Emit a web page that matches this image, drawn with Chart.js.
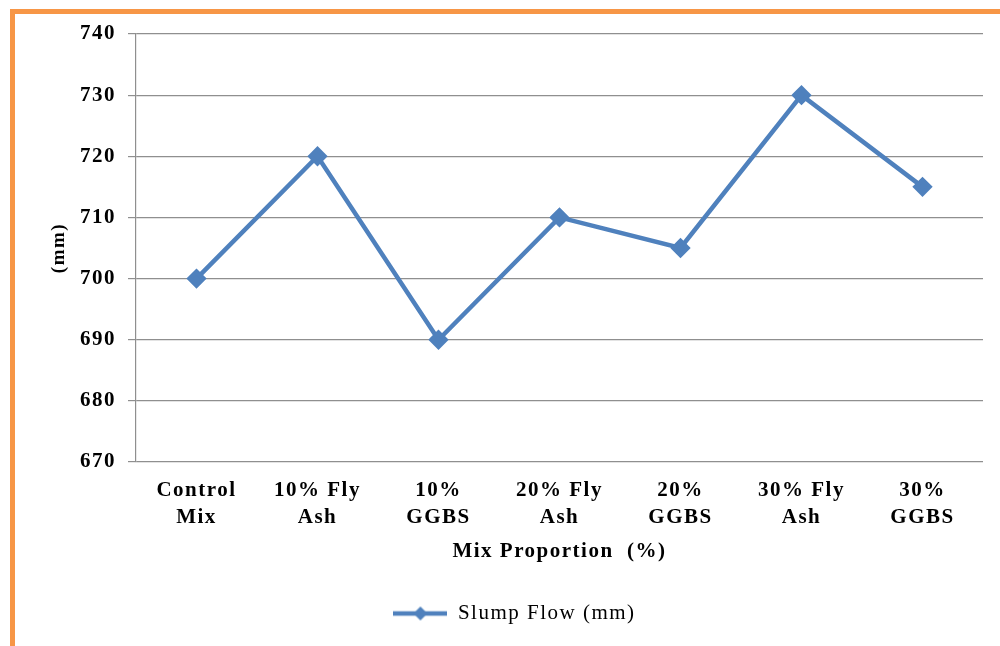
<!DOCTYPE html>
<html lang="en">
<head>
<meta charset="UTF-8">
<title>Slump Flow</title>
<script src="https://cdn.jsdelivr.net/npm/chart.js"></script>
<style>
    body { margin: 0; background: #fff; }
    #frame {
        position: absolute; left: 10px; top: 9px; width: 1000px; height: 632px;
        border-left: 5px solid #F79646; border-top: 5px solid #F79646;
        border-bottom: 1px solid #F8D3B0;
    }
    #wrap { position: absolute; left: 0; top: 0; width: 1000px; height: 646px; }
</style>
</head>
<body>
<div id="frame"></div>
<div id="wrap"><canvas id="myChart"></canvas></div>

<script>
    const categories = [['Control', 'Mix'], ['10% Fly', 'Ash'], ['10%', 'GGBS'], ['20% Fly', 'Ash'],
        ['20%', 'GGBS'], ['30% Fly', 'Ash'], ['30%', 'GGBS']]
    const slumpFlow = [700, 720, 690, 710, 705, 730, 715]
    const yTicks = [670, 680, 690, 700, 710, 720, 730, 740]

    const blue = '#4F81BD'
    const serif = "'Liberation Serif', 'Times New Roman', serif"

    // legend symbol: line with a diamond in the middle
    const sym = document.createElement('canvas')
    sym.width = 54; sym.height = 18
    const sc = sym.getContext('2d')
    sc.strokeStyle = blue; sc.lineWidth = 4.5
    sc.beginPath(); sc.moveTo(0, 9); sc.lineTo(54, 9); sc.stroke()
    sc.fillStyle = blue
    sc.beginPath(); sc.moveTo(27, 2); sc.lineTo(34, 9); sc.lineTo(27, 16); sc.lineTo(20, 9); sc.closePath(); sc.fill()

    // the original text is set a little loose
    const spacing = {
        id: 'spacing',
        beforeLayout: (chart) => { chart.ctx.letterSpacing = '1.5px' },
        beforeDraw: (chart) => { chart.ctx.letterSpacing = '1.5px' }
    }

    var ctx = document.getElementById('myChart')
    var myChart = new Chart(ctx, {
        type: 'line',
        data: {
            labels: categories,
            datasets: [{
                label: 'Slump Flow (mm)',
                data: slumpFlow,
                borderColor: blue,
                backgroundColor: blue,
                borderWidth: 4.5,
                pointStyle: 'rectRot',
                pointRadius: 7,
                pointHoverRadius: 7,
                tension: 0
            }]
        },
        plugins: [spacing],
        options: {
            responsive: true,
            maintainAspectRatio: false,
            animation: false,
            layout: { padding: { left: 46, right: 17, top: 34, bottom: 12 } },
            plugins: {
                tooltip: { enabled: false },
                legend: {
                    position: 'bottom',
                    labels: {
                        usePointStyle: true,
                        pointStyleWidth: 54,
                        boxHeight: 18,
                        color: '#000',
                        font: { family: serif, size: 21 },
                        padding: 10,
                        generateLabels: (chart) => [{
                            text: 'Slump Flow (mm)',
                            pointStyle: sym,
                            fillStyle: blue,
                            strokeStyle: blue,
                            lineWidth: 0,
                            datasetIndex: 0
                        }]
                    }
                }
            },
            scales: {
                x: {
                    offset: true,
                    grid: { display: false, drawTicks: false },
                    border: { display: false },
                    ticks: {
                        color: '#000',
                        font: { family: serif, size: 21, weight: 'bold', lineHeight: 1.3 },
                        padding: 15,
                        maxRotation: 0,
                        autoSkip: false
                    },
                    title: {
                        display: true,
                        text: 'Mix Proportion  (%)',
                        color: '#000',
                        font: { family: serif, size: 21, weight: 'bold' },
                        padding: { top: 4, bottom: 29 }
                    },
                    afterFit: (scale) => { scale.height = 131 }
                },
                y: {
                    min: 670,
                    max: 740,
                    afterBuildTicks: (scale) => { scale.ticks = yTicks.map(v => ({ value: v })) },
                    grid: { color: '#8f8f8f', lineWidth: 1.2, tickLength: 8 },
                    border: { color: '#8f8f8f', width: 1.2 },
                    ticks: {
                        color: '#000',
                        font: { family: serif, size: 21, weight: 'bold' },
                        padding: 12
                    },
                    title: {
                        display: true,
                        text: '(mm)',
                        color: '#000',
                        font: { family: serif, size: 19, weight: 'bold' },
                        padding: 2
                    },
                    afterFit: (scale) => { scale.width = 90 }
                }
            }
        }
    })
</script>
</body>
</html>
